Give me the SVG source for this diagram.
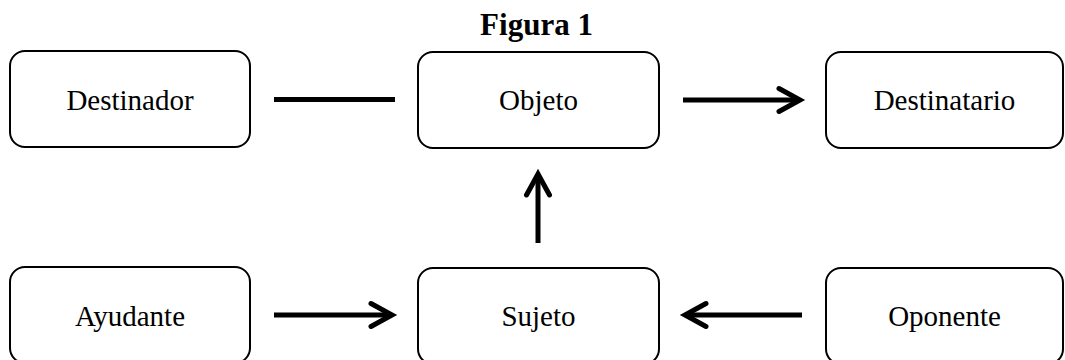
<svg xmlns="http://www.w3.org/2000/svg" width="1065" height="360" viewBox="0 0 1065 360">
<style>
.box{fill:#fff;stroke:#000;stroke-width:2}
.lbl{font-family:"Liberation Serif","Times New Roman",serif;font-size:29px;fill:#000;text-anchor:middle}
.title{font-family:"Liberation Serif","Times New Roman",serif;font-size:31px;font-weight:bold;fill:#000;text-anchor:middle}
.conn{stroke:#000;stroke-width:5;fill:none}
</style>
<defs>
<marker id="arr" viewBox="-26 -15 30 30" refX="0" refY="0" markerWidth="30" markerHeight="30" markerUnits="userSpaceOnUse" orient="auto" overflow="visible">
<path d="M -21 -11.5 L 0 0 L -21 11.5" fill="none" stroke="#000" stroke-width="5" stroke-linecap="round" stroke-linejoin="miter"/>
</marker>
</defs>
<rect width="1065" height="360" fill="#fff"/>
<text class="title" x="536.5" y="35">Figura 1</text>
<g id="destinador"><rect class="box" x="10" y="51" width="240" height="96" rx="15"/><text class="lbl" x="130" y="110">Destinador</text></g>
<g id="objeto"><rect class="box" x="418" y="52" width="241" height="96" rx="15"/><text class="lbl" x="538.5" y="110">Objeto</text></g>
<g id="destinatario"><rect class="box" x="826" y="52" width="237" height="96" rx="15"/><text class="lbl" x="944.5" y="110">Destinatario</text></g>
<g id="ayudante"><rect class="box" x="10" y="267" width="240" height="96" rx="15"/><text class="lbl" x="130" y="326">Ayudante</text></g>
<g id="sujeto"><rect class="box" x="418" y="268" width="241" height="96" rx="15"/><text class="lbl" x="538.5" y="326">Sujeto</text></g>
<g id="oponente"><rect class="box" x="826" y="268" width="237" height="96" rx="15"/><text class="lbl" x="944.5" y="326">Oponente</text></g>
<g id="connectors">
<line class="conn" x1="274" y1="99.5" x2="395" y2="99.5"/>
<line class="conn" x1="683" y1="100" x2="800" y2="100" marker-end="url(#arr)"/>
<line class="conn" x1="538" y1="243" x2="538" y2="174" marker-end="url(#arr)"/>
<line class="conn" x1="274" y1="315" x2="392" y2="315" marker-end="url(#arr)"/>
<line class="conn" x1="802" y1="315" x2="685" y2="315" marker-end="url(#arr)"/>
</g>
</svg>
